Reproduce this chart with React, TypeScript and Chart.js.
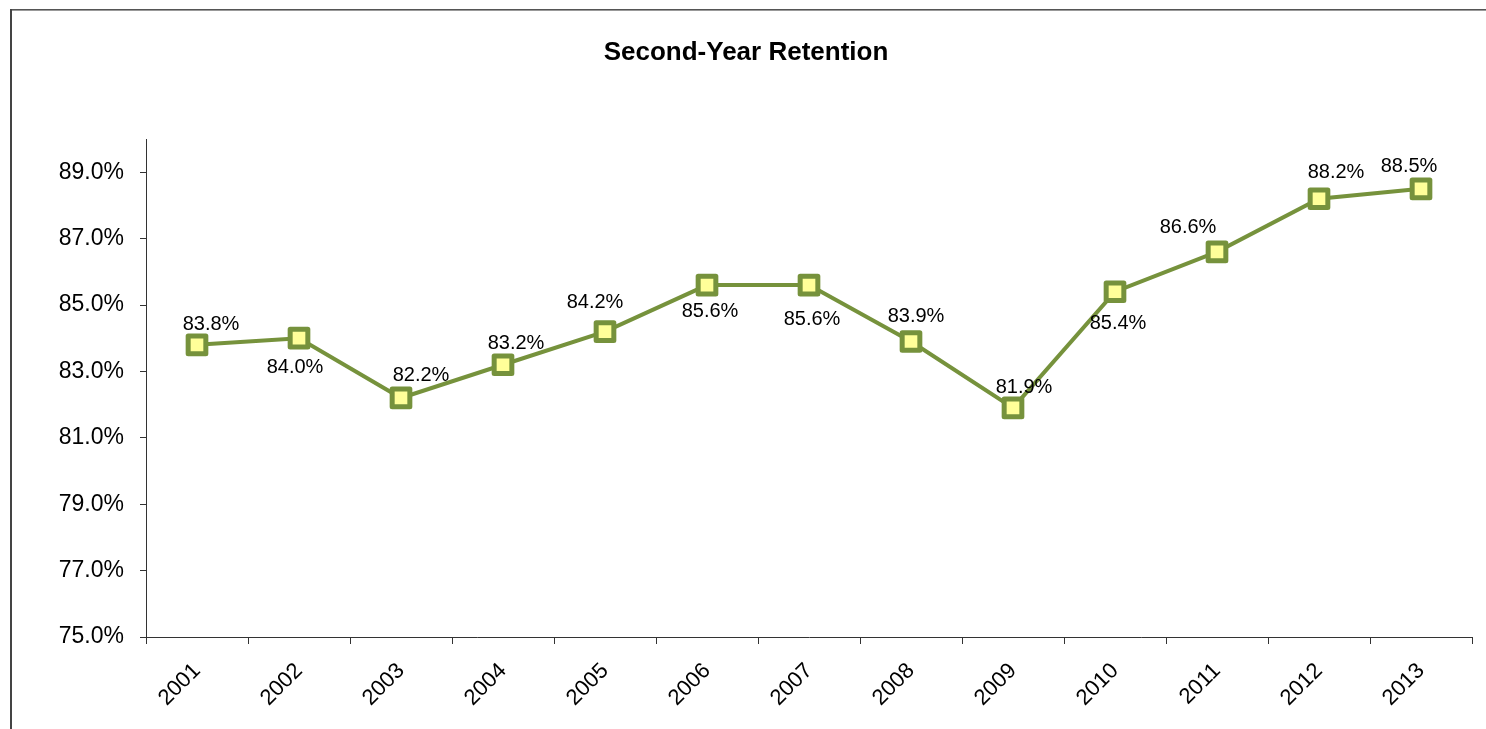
import React, { useEffect, useRef } from "react";
import { Chart, registerables } from "chart.js";

Chart.register(...registerables);

const TITLE = "Second-Year Retention";
const years = ["2001", "2002", "2003", "2004", "2005", "2006", "2007", "2008", "2009", "2010", "2011", "2012", "2013"];
const retention = [83.8, 84.0, 82.2, 83.2, 84.2, 85.6, 85.6, 83.9, 81.9, 85.4, 86.6, 88.2, 88.5];
const yTicks = [75, 77, 79, 81, 83, 85, 87, 89];
const Y_MIN = 75;
const Y_MAX = 90;
// label offset (dx, dy) from each point, in px
const labelDx = [14, -4, 20, 13, -10, 3, 3, 5, 11, 3, -29, 17, -12];
const labelDy = [-20, 29, -22, -21, -29, 26, 34, -25, -20, 32, -24, -26, -22];

const FONT = "'Liberation Sans', Arial, sans-serif";
const OLIVE = "#76923C";
const FILL = "#FFFF99";

const framePlugin = {
  id: "frame",
  beforeDraw(chart: any) {
    const ctx = chart.ctx;
    ctx.save();
    ctx.fillStyle = "#fff";
    ctx.fillRect(0, 0, chart.width, chart.height);
    ctx.fillStyle = "#555";
    ctx.fillRect(10, 9, chart.width - 10, 1);
    ctx.fillStyle = "#999";
    ctx.fillRect(10, 10, chart.width - 10, 1);
    ctx.fillStyle = "#444";
    ctx.fillRect(10, 9, 2, chart.height - 9);
    ctx.font = `bold 26px ${FONT}`;
    ctx.fillStyle = "#000";
    ctx.textAlign = "center";
    ctx.textBaseline = "middle";
    ctx.fillText(TITLE, 746, 53);
    ctx.restore();
  },
  beforeDatasetDraw(chart: any) {
    chart.ctx.save();
    chart.ctx.lineJoin = "round";
  },
  afterDatasetDraw(chart: any) {
    chart.ctx.restore();
  },
  afterDatasetsDraw(chart: any) {
    const ctx = chart.ctx;
    const meta = chart.getDatasetMeta(0);
    ctx.save();
    ctx.font = `20px ${FONT}`;
    ctx.fillStyle = "#000";
    ctx.textAlign = "center";
    ctx.textBaseline = "middle";
    meta.data.forEach((pt: any, i: number) => {
      const v = retention[i];
      ctx.fillText(v.toFixed(1) + "%", pt.x + labelDx[i], pt.y + labelDy[i]);
    });
    ctx.restore();
  },
};

export default function App() {
  const ref = useRef<HTMLCanvasElement>(null);
  useEffect(() => {
    if (!ref.current) return;
    const chart = new Chart(ref.current, {
      type: "line",
      data: {
        labels: years,
        datasets: [
          {
            data: retention,
            borderColor: OLIVE,
            borderWidth: 4,
            tension: 0,
            pointStyle: "rect",
            pointRadius: 12.5,
            pointHoverRadius: 12.5,
            pointBorderWidth: 5,
            pointBorderColor: OLIVE,
            pointBackgroundColor: FILL,
            clip: false as any,
          },
        ],
      },
      options: {
        responsive: false,
        maintainAspectRatio: false,
        animation: false,
        events: [],
        layout: { autoPadding: false, padding: { left: 0, right: 14, top: 139, bottom: 0 } },
        plugins: {
          legend: { display: false },
          title: { display: false },
          tooltip: { enabled: false },
        },
        scales: {
          x: {
            offset: true,
            grid: { offset: true, drawOnChartArea: false, tickLength: 7, color: "#333", lineWidth: 1 },
            border: { display: true, color: "#333", width: 1 },
            ticks: {
              color: "#000",
              font: { family: FONT, size: 22 },
              minRotation: 45,
              maxRotation: 45,
              padding: 14,
            },
            afterFit(scale: any) {
              scale.height = 92;
              scale.paddingLeft = 0;
              scale.paddingRight = 0;
            },
          },
          y: {
            min: Y_MIN,
            max: Y_MAX,
            grid: { drawOnChartArea: false, tickLength: 6, color: "#333", lineWidth: 1 },
            border: { display: true, color: "#333", width: 1 },
            ticks: {
              color: "#000",
              font: { family: FONT, size: 23 },
              padding: 16,
              callback: (v: any) => Number(v).toFixed(1) + "%",
            },
            afterBuildTicks(scale: any) {
              scale.ticks = yTicks.map((v) => ({ value: v }));
            },
            afterFit(scale: any) {
              scale.width = 146;
              scale.paddingTop = 0;
              scale.paddingBottom = 0;
            },
          },
        },
      },
      plugins: [framePlugin],
    });
    return () => chart.destroy();
  }, []);
  return (
    <div style={{ position: "absolute", left: 0, top: 0, width: 1486, height: 729, background: "#fff" }}>
      <canvas ref={ref} width={1486} height={729} style={{ display: "block", width: 1486, height: 729 }} />
    </div>
  );
}
